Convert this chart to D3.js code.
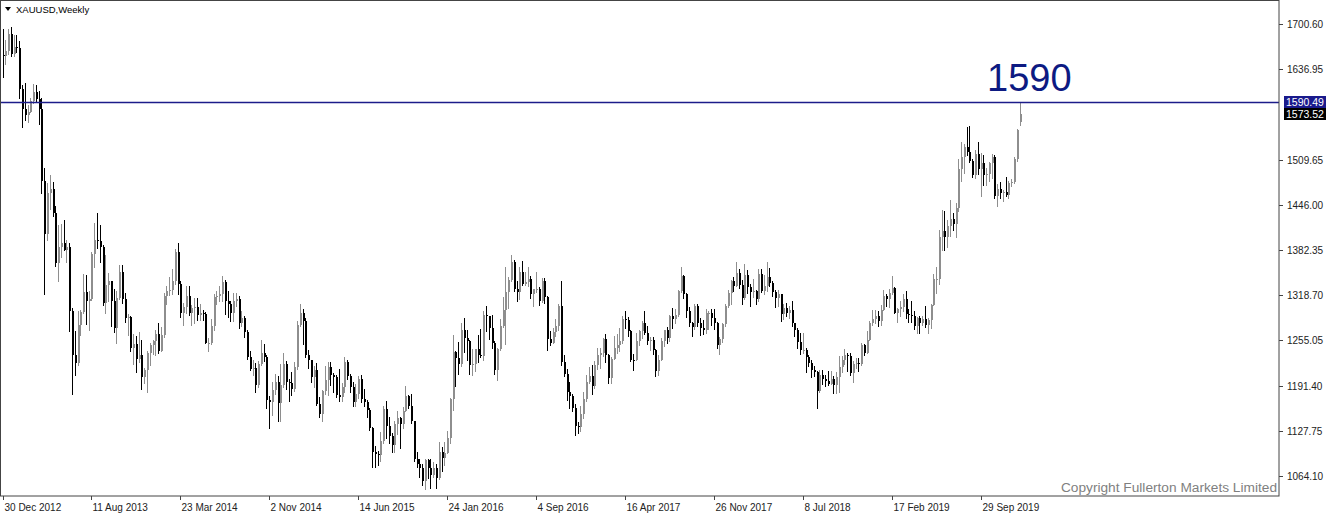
<!DOCTYPE html>
<html><head><meta charset="utf-8">
<script src="https://cdn.jsdelivr.net/npm/d3@7"></script>
<style>html,body{margin:0;padding:0;background:#fff;}svg{display:block;}</style>
</head><body><svg id="c" width="1332" height="518"></svg>
<script>
// Weekly XAUUSD candles, week 0 = 30 Dec 2012
const opens=[1657,1656,1662,1687,1658,1668,1667,1609,1581,1572,1577,1592,1605,1595,1581,1480,1405,1462,1468,1435,1364,1386,1392,1383,1387,1297,1234,1223,1277,1295,1323,1310,1313,1377,1396,1395,1387,1308,1333,1338,1310,1273,1315,1352,1313,1287,1288,1244,1250,1229,1235,1203,1213,1237,1248,1254,1264,1240,1262,1318,1324,1326,1339,1379,1335,1294,1302,1318,1293,1301,1302,1291,1293,1292,1251,1252,1275,1316,1317,1320,1337,1310,1307,1294,1310,1314,1280,1286,1267,1231,1215,1216,1192,1222,1238,1231,1171,1169,1185,1197,1167,1192,1222,1196,1195,1186,1217,1277,1293,1283,1234,1227,1203,1213,1166,1152,1184,1199,1218,1207,1203,1178,1175,1189,1225,1205,1189,1168,1180,1201,1173,1168,1157,1131,1098,1095,1094,1113,1159,1134,1121,1108,1138,1146,1137,1156,1177,1163,1141,1088,1081,1076,1057,1086,1075,1065,1076,1061,1098,1089,1096,1118,1173,1239,1230,1222,1270,1259,1254,1220,1222,1243,1234,1233,1291,1290,1272,1252,1213,1243,1275,1298,1323,1340,1366,1327,1323,1351,1335,1337,1341,1321,1327,1328,1310,1338,1316,1257,1251,1267,1275,1304,1225,1208,1183,1177,1160,1134,1133,1152,1173,1196,1205,1191,1220,1234,1237,1257,1234,1202,1229,1244,1249,1254,1285,1284,1268,1228,1227,1254,1268,1280,1266,1254,1256,1242,1212,1228,1254,1269,1258,1289,1285,1291,1325,1346,1320,1297,1280,1274,1304,1280,1272,1269,1293,1294,1287,1280,1248,1257,1278,1303,1322,1338,1332,1350,1333,1315,1347,1330,1323,1324,1313,1349,1325,1332,1345,1336,1323,1315,1320,1292,1301,1294,1298,1279,1269,1253,1241,1242,1231,1223,1214,1211,1184,1206,1200,1198,1194,1200,1192,1203,1218,1227,1235,1233,1209,1222,1223,1222,1248,1238,1256,1280,1285,1290,1282,1298,1318,1314,1322,1329,1294,1299,1302,1313,1292,1291,1290,1275,1286,1280,1285,1277,1284,1305,1341,1342,1400,1409,1400,1416,1426,1419,1441,1497,1513,1527,1520,1507,1488,1517,1497,1505,1488,1490,1505,1514,1459,1468,1462,1464,1460,1476,1478,1510,1562];
const highs=[1694,1678,1694,1696,1685,1685,1676,1615,1617,1587,1597,1616,1614,1606,1597,1498,1477,1488,1478,1445,1417,1419,1424,1396,1392,1300,1268,1297,1298,1348,1347,1324,1380,1420,1434,1418,1390,1375,1350,1338,1327,1325,1361,1361,1322,1292,1290,1264,1261,1267,1256,1216,1240,1251,1256,1270,1279,1274,1322,1332,1345,1355,1384,1392,1338,1308,1331,1331,1305,1315,1315,1306,1298,1295,1259,1285,1321,1325,1332,1346,1340,1325,1311,1322,1322,1317,1296,1290,1269,1240,1227,1223,1226,1255,1250,1234,1177,1196,1208,1205,1222,1238,1226,1200,1211,1224,1282,1307,1299,1287,1242,1227,1219,1223,1175,1185,1219,1224,1224,1209,1206,1215,1195,1232,1228,1208,1197,1194,1205,1206,1186,1171,1160,1133,1106,1099,1126,1163,1170,1147,1124,1142,1156,1147,1161,1191,1178,1180,1142,1098,1088,1081,1088,1088,1088,1084,1081,1112,1105,1112,1127,1174,1263,1240,1253,1280,1287,1270,1256,1243,1243,1262,1271,1297,1304,1290,1291,1254,1244,1285,1316,1358,1344,1375,1368,1338,1358,1367,1352,1358,1346,1327,1352,1330,1343,1343,1318,1268,1273,1285,1307,1338,1234,1215,1197,1180,1165,1140,1163,1182,1207,1217,1220,1226,1244,1245,1259,1264,1236,1231,1261,1264,1273,1289,1296,1288,1270,1236,1265,1270,1283,1296,1276,1260,1260,1243,1235,1259,1270,1274,1291,1300,1299,1326,1358,1347,1322,1302,1281,1306,1306,1286,1284,1299,1297,1299,1299,1281,1260,1279,1306,1326,1340,1345,1366,1355,1340,1362,1354,1335,1341,1326,1355,1356,1347,1366,1357,1338,1326,1326,1321,1307,1308,1304,1310,1280,1272,1265,1265,1245,1235,1227,1219,1212,1214,1214,1207,1212,1212,1205,1210,1233,1233,1243,1237,1238,1226,1230,1230,1251,1250,1268,1283,1298,1298,1297,1305,1326,1320,1327,1346,1330,1300,1311,1321,1324,1299,1310,1296,1288,1289,1290,1303,1287,1306,1348,1359,1411,1439,1437,1425,1453,1434,1449,1510,1535,1531,1555,1557,1510,1523,1535,1519,1516,1498,1506,1517,1516,1475,1478,1467,1485,1480,1482,1514,1553,1590.49];
const lows=[1626,1644,1659,1656,1655,1661,1597,1555,1565,1562,1577,1590,1591,1560,1462,1321,1396,1440,1430,1360,1338,1373,1382,1366,1268,1180,1207,1221,1262,1294,1278,1270,1312,1359,1385,1365,1305,1294,1310,1276,1267,1251,1313,1308,1281,1262,1240,1222,1211,1224,1186,1195,1182,1221,1236,1235,1238,1240,1260,1307,1319,1321,1335,1321,1288,1277,1294,1291,1277,1280,1284,1284,1284,1251,1240,1250,1270,1306,1310,1310,1292,1288,1282,1282,1304,1273,1276,1260,1229,1214,1206,1183,1190,1220,1226,1160,1131,1150,1180,1142,1142,1190,1187,1170,1178,1184,1215,1276,1250,1232,1216,1197,1190,1164,1147,1142,1180,1178,1192,1183,1175,1170,1170,1182,1201,1182,1162,1162,1174,1169,1162,1147,1129,1077,1077,1080,1085,1110,1117,1111,1098,1098,1123,1104,1131,1155,1160,1139,1085,1077,1062,1052,1046,1061,1047,1062,1047,1060,1071,1080,1096,1111,1157,1191,1208,1219,1239,1228,1208,1206,1212,1224,1232,1228,1268,1257,1245,1208,1199,1242,1274,1250,1300,1339,1324,1310,1314,1333,1333,1332,1315,1303,1323,1305,1309,1308,1241,1248,1251,1261,1270,1220,1205,1171,1160,1155,1122,1124,1127,1146,1170,1195,1180,1188,1215,1216,1233,1224,1195,1195,1229,1238,1240,1251,1272,1261,1226,1214,1227,1248,1258,1264,1250,1242,1236,1205,1206,1227,1247,1252,1254,1273,1280,1289,1323,1315,1288,1276,1261,1271,1276,1263,1264,1265,1271,1277,1271,1244,1236,1253,1276,1302,1307,1325,1331,1329,1307,1314,1322,1303,1316,1307,1310,1323,1321,1325,1332,1317,1302,1304,1282,1285,1290,1287,1276,1261,1245,1236,1237,1211,1219,1204,1205,1160,1183,1194,1191,1192,1193,1181,1181,1182,1211,1222,1212,1207,1196,1216,1212,1221,1235,1238,1256,1277,1279,1276,1277,1298,1303,1302,1320,1293,1281,1290,1297,1287,1281,1281,1271,1266,1266,1277,1274,1266,1273,1305,1322,1334,1382,1382,1386,1402,1411,1400,1437,1480,1491,1516,1506,1485,1484,1489,1459,1474,1474,1480,1484,1456,1445,1456,1452,1458,1456,1472,1477,1508,1558];
const closes=[1656,1662,1687,1658,1668,1667,1609,1581,1572,1577,1592,1605,1595,1581,1480,1405,1462,1468,1435,1364,1386,1392,1383,1387,1297,1234,1223,1277,1295,1323,1310,1313,1377,1396,1395,1387,1308,1333,1338,1310,1273,1315,1352,1313,1287,1288,1244,1250,1229,1235,1203,1213,1237,1248,1254,1264,1240,1262,1318,1324,1326,1339,1379,1335,1294,1302,1318,1293,1301,1302,1291,1293,1292,1251,1252,1275,1316,1317,1320,1337,1310,1307,1294,1310,1314,1280,1286,1267,1231,1215,1216,1192,1222,1238,1231,1171,1169,1185,1197,1167,1192,1222,1196,1195,1186,1217,1277,1293,1283,1234,1227,1203,1213,1166,1152,1184,1199,1218,1207,1203,1178,1175,1189,1225,1205,1189,1168,1180,1201,1173,1168,1157,1131,1098,1095,1094,1113,1159,1134,1121,1108,1138,1146,1137,1156,1177,1163,1141,1088,1081,1076,1057,1086,1075,1065,1076,1061,1098,1089,1096,1118,1173,1239,1230,1222,1270,1259,1254,1220,1222,1243,1234,1233,1291,1290,1272,1252,1213,1243,1275,1298,1323,1340,1366,1327,1323,1351,1335,1337,1341,1321,1327,1328,1310,1338,1316,1257,1251,1267,1275,1304,1225,1208,1183,1177,1160,1134,1133,1152,1173,1196,1205,1191,1220,1234,1237,1257,1234,1202,1229,1244,1249,1254,1285,1284,1268,1228,1227,1254,1268,1280,1266,1254,1256,1242,1212,1228,1254,1269,1258,1289,1285,1291,1325,1346,1320,1297,1280,1274,1304,1280,1272,1269,1293,1294,1287,1280,1248,1257,1278,1303,1322,1338,1332,1350,1333,1315,1347,1330,1323,1324,1313,1349,1325,1332,1345,1336,1323,1315,1320,1292,1301,1294,1298,1279,1269,1253,1241,1242,1231,1223,1214,1211,1184,1206,1200,1198,1194,1200,1192,1203,1218,1227,1235,1233,1209,1222,1223,1222,1248,1238,1256,1280,1285,1290,1282,1298,1318,1314,1322,1329,1294,1299,1302,1313,1292,1291,1290,1275,1286,1280,1285,1277,1284,1305,1341,1342,1400,1409,1400,1416,1426,1419,1441,1497,1513,1527,1520,1507,1488,1517,1497,1505,1488,1490,1505,1514,1459,1468,1462,1464,1460,1476,1478,1510,1552,1573.52];
const dateLabels=["30 Dec 2012","11 Aug 2013","23 Mar 2014","2 Nov 2014","14 Jun 2015","24 Jan 2016","4 Sep 2016","16 Apr 2017","26 Nov 2017","8 Jul 2018","17 Feb 2019","29 Sep 2019"];
const dateLabelWeeks=[0,32,64,96,128,160,192,224,256,288,320,352];
const priceTicks=[1064.10,1127.75,1191.40,1255.05,1318.70,1382.35,1446.00,1509.65,1636.95,1700.60];
const levelPrice=1590.49;
const lastPrice=1573.52;
const levelText="1590";
const titleText="XAUUSD,Weekly";
const copyrightText="Copyright Fullerton Markets Limited";

const svg=d3.select("#c");
const plotR=1279, plotB=496;
const x=d3.scaleLinear().domain([0,366]).range([2.5,1019.5]);
const y=d3.scaleLinear().domain([1064.10,1700.60]).range([476,24]);
const FONT="'Liberation Sans', Arial, sans-serif";

svg.append("rect").attr("width",1332).attr("height",518).attr("fill","#fff");
svg.append("defs").append("clipPath").attr("id","clip").append("rect")
  .attr("x",1).attr("y",1).attr("width",plotR-1).attr("height",plotB-1);

const data=opens.map((o,i)=>({i,o,h:highs[i],l:lows[i],c:closes[i]}));
const bull="#8e8e8e", bear="#000";
const g=svg.append("g").attr("clip-path","url(#clip)");
g.selectAll("line.wick").data(data).join("line").attr("class","wick")
  .attr("x1",d=>Math.round(x(d.i))+0.5).attr("x2",d=>Math.round(x(d.i))+0.5)
  .attr("y1",d=>Math.round(y(d.h))).attr("y2",d=>Math.round(y(d.l))+1)
  .attr("stroke",d=>d.c>=d.o?bull:bear).attr("stroke-width",1);
g.selectAll("rect.body").data(data).join("rect").attr("class","body")
  .attr("x",d=>Math.round(x(d.i)))
  .attr("y",d=>Math.round(y(Math.max(d.o,d.c))))
  .attr("width",2)
  .attr("height",d=>Math.max(1,Math.round(y(Math.min(d.o,d.c)))-Math.round(y(Math.max(d.o,d.c)))))
  .attr("fill",d=>d.c>=d.o?bull:bear);

// horizontal level line
const ly=Math.round(y(levelPrice))+0.5;
svg.append("line").attr("x1",0).attr("x2",plotR).attr("y1",ly).attr("y2",ly)
  .attr("stroke","#1c1c8a").attr("stroke-width",1.3);
svg.append("text").attr("x",987).attr("y",91).attr("font-family",FONT).attr("font-size",38)
  .attr("fill","#0d1a82").text(levelText);

// frame
svg.append("rect").attr("x",0.5).attr("y",0.5).attr("width",plotR-0.5).attr("height",plotB-0.5)
  .attr("fill","none").attr("stroke","#444").attr("stroke-width",1);

// right price axis
const ra=svg.append("g");
priceTicks.forEach(p=>{
  const ty=Math.round(y(p))+0.5;
  ra.append("line").attr("x1",plotR).attr("x2",plotR+4).attr("y1",ty).attr("y2",ty).attr("stroke","#444");
  ra.append("text").attr("x",plotR+8).attr("y",ty+3.5).attr("font-family",FONT).attr("font-size",10)
    .attr("fill","#222").text(p.toFixed(2));
});
// level / price boxes
const boxes=[{p:levelPrice,bg:"#1a1a8c"},{p:lastPrice,bg:"#000"}];
boxes.forEach((b,k)=>{
  const cy=k===0?Math.round(y(levelPrice)):Math.round(y(levelPrice))+12;
  ra.append("rect").attr("x",plotR+5).attr("y",cy-6).attr("width",42).attr("height",12).attr("fill",b.bg);
  ra.append("text").attr("x",plotR+7).attr("y",cy+4).attr("font-family",FONT).attr("font-size",10.5)
    .attr("fill","#fff").text(b.p.toFixed(2));
});

// bottom time axis
const ba=svg.append("g");
dateLabels.forEach((t,k)=>{
  const tx=Math.round(x(dateLabelWeeks[k]))+0.5;
  ba.append("line").attr("x1",tx).attr("x2",tx).attr("y1",plotB).attr("y2",plotB+4).attr("stroke","#444");
  ba.append("text").attr("x",tx+1).attr("y",511).attr("font-family",FONT).attr("font-size",10)
    .attr("fill","#222").text(t);
});

// title
svg.append("path").attr("d","M5,7 L11,7 L8,11 Z").attr("fill","#000");
svg.append("text").attr("x",16).attr("y",13).attr("font-family",FONT).attr("font-size",9.5)
  .attr("fill","#000").text(titleText);

// copyright
svg.append("text").attr("x",1277).attr("y",492).attr("text-anchor","end").attr("font-family",FONT)
  .attr("font-size",13.7).attr("fill","#7f7f7f").text(copyrightText);
</script></body></html>
